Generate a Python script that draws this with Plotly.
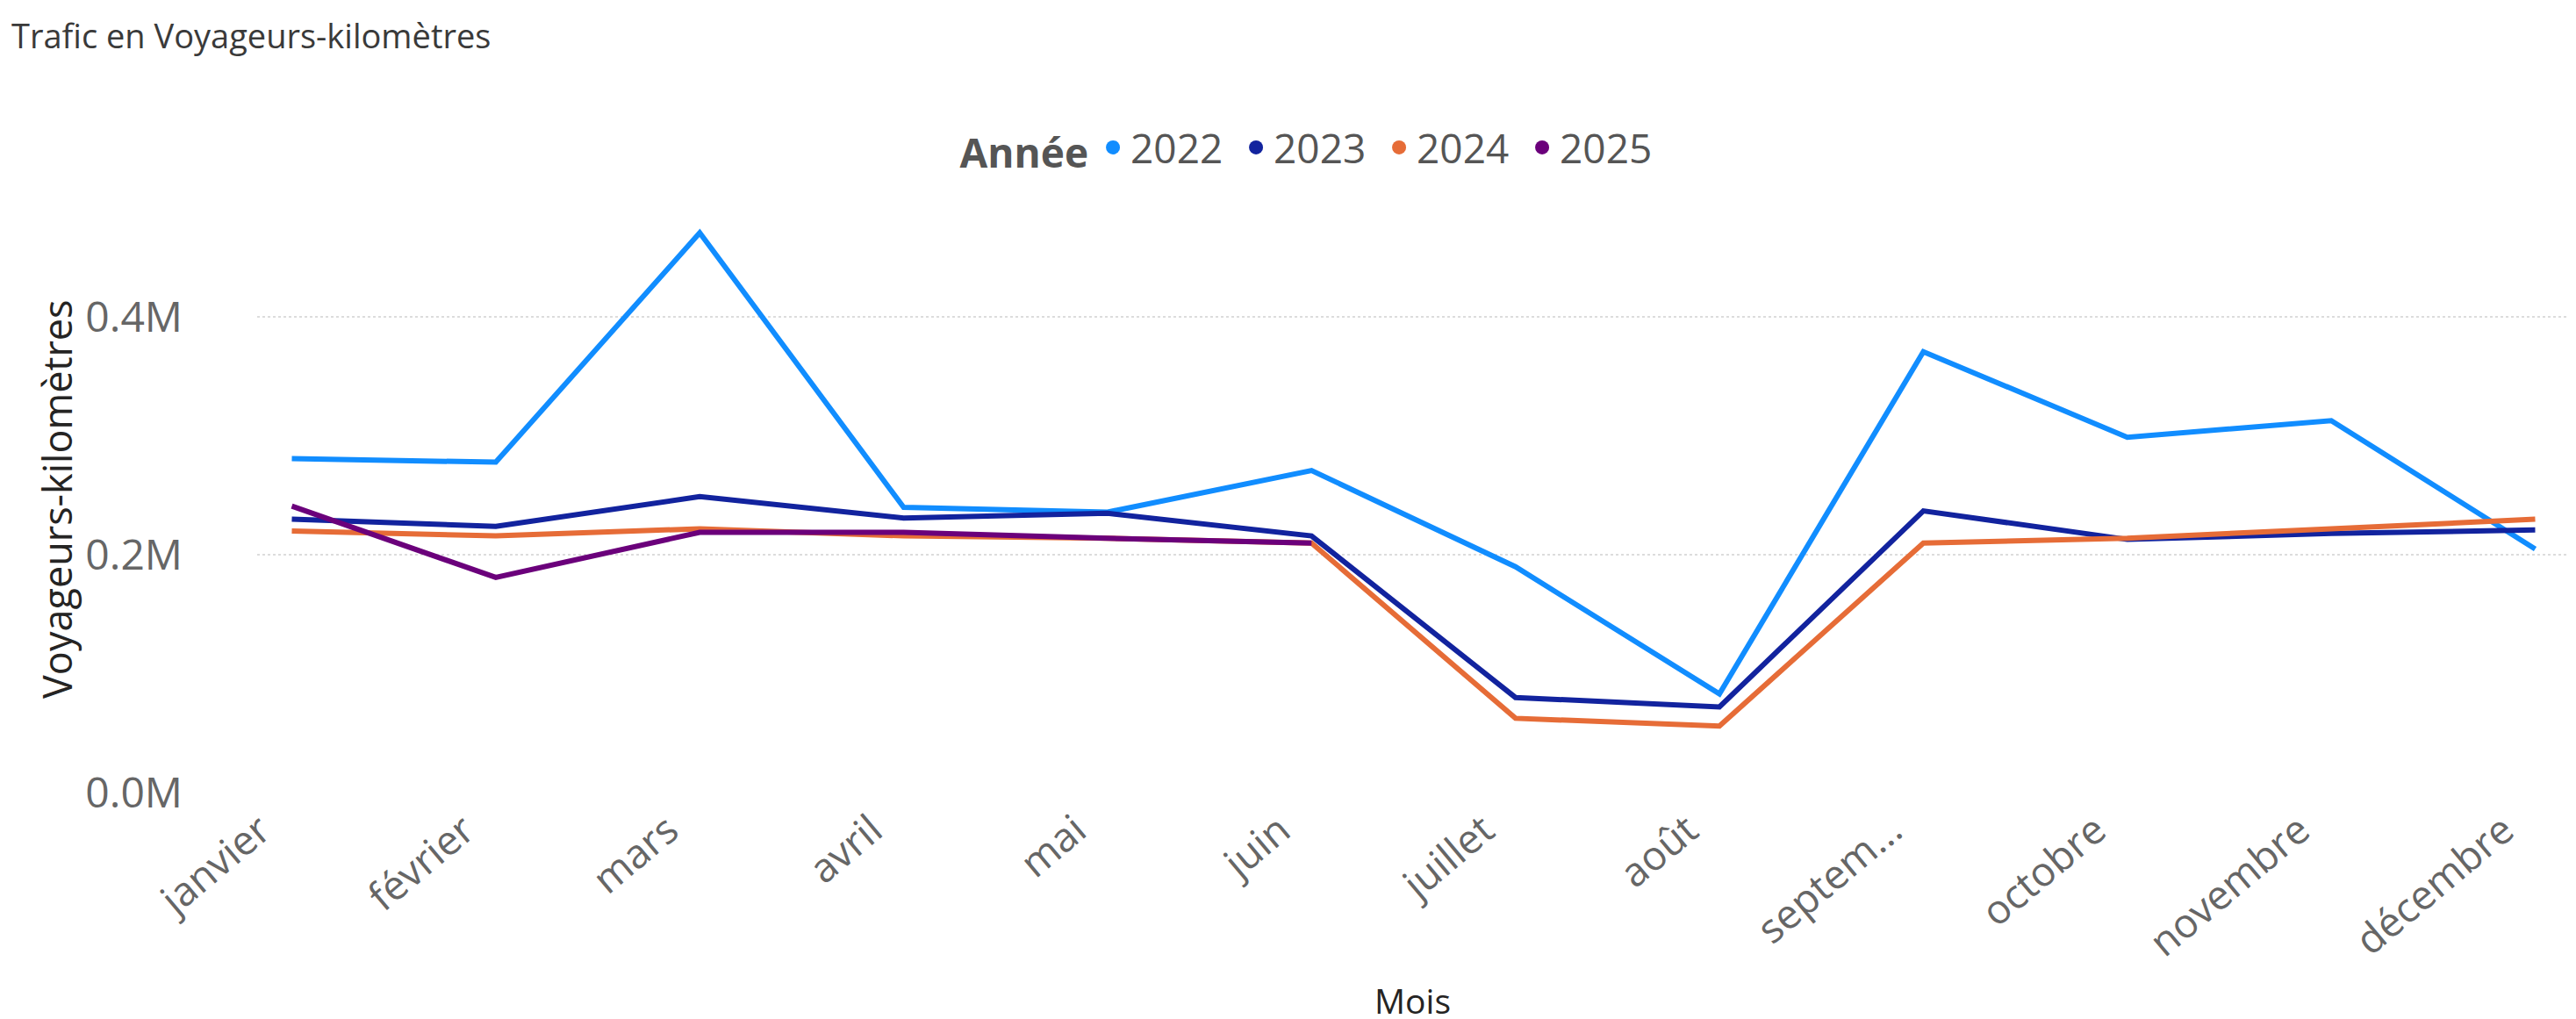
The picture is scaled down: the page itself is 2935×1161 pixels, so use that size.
import plotly.graph_objects as go

months = ["janvier", "février", "mars", "avril", "mai", "juin", "juillet",
          "août", "septembre", "octobre", "novembre", "décembre"]
month_labels = ["janvier", "février", "mars", "avril", "mai", "juin", "juillet",
                "août", "septem...", "octobre", "novembre", "décembre"]

v2022 = [281000, 278000, 471000, 240000, 236000, 271000, 190000, 83000, 371000, 299000, 313000, 205000]
v2023 = [230000, 224000, 249000, 231000, 235000, 216000, 80000, 72000, 237000, 213000, 218000, 221000]
v2024 = [220000, 216000, 222000, 216000, 214000, 210000, 62500, 56000, 210000, 214000, 222000, 230000]
v2025 = [241000, 181000, 219000, 219000, 214000, 210000]

years = ["2022", "2023", "2024", "2025"]
series = [v2022, v2023, v2024, v2025]
colors = ["#118DFF", "#12239E", "#E66C37", "#6B007B"]

y_ticks = [0, 200000, 400000]
y_tick_labels = ["0.0M", "0.2M", "0.4M"]

FONT = "Open Sans, Noto Sans, sans-serif"

fig = go.Figure()
for name, vals, col in zip(years, series, colors):
    fig.add_trace(go.Scatter(
        x=months[:len(vals)], y=vals, mode="lines", name=name,
        line=dict(color=col, width=6), showlegend=False,
    ))
for name, col in zip(years, colors):
    fig.add_trace(go.Scatter(
        x=[None], y=[None], mode="markers", name=name,
        marker=dict(color=col, size=22, symbol="circle"), showlegend=True,
    ))

W, H = 2935, 1161
L, R, T, B = 285, 15, 218, 266
plot_h = H - T - B
plot_w = W - L - R
y0_px = H - B

fig.update_layout(
    width=W, height=H,
    margin=dict(l=L, r=R, t=T, b=B),
    paper_bgcolor="white", plot_bgcolor="white",
    font=dict(family=FONT, color="#605E5C"),
    title=dict(text="Trafic en Voyageurs-kilomètres", xref="container", yref="container",
               x=5 / W, xanchor="left", y=1 - 34 / H, yanchor="middle",
               font=dict(size=38, color="#3A3A3A", family=FONT)),
    legend=dict(orientation="h", x=(1488 - L) / plot_w, xanchor="center",
                y=1 + (T - 160) / plot_h, yanchor="middle",
                title=dict(text="<b>Année</b>", font=dict(size=46, color="#555555")),
                font=dict(size=46, color="#555555"),
                entrywidth=118, entrywidthmode="pixels",
                itemwidth=30, tracegroupgap=0, traceorder="normal"),
    xaxis=dict(type="category", categoryorder="array", categoryarray=months,
               range=[-0.17, 11.17], tickmode="array", tickvals=months, ticktext=month_labels,
               tickangle=-40, tickfont=dict(size=46, color="#666666"),
               showgrid=False, zeroline=False, showline=False, ticks="",
               ticklabelstandoff=6, ticklabelshift=-36),
    yaxis=dict(range=[0, 500000], tickmode="array", tickvals=y_ticks, ticktext=y_tick_labels,
               tickfont=dict(size=48, color="#666666"),
               showgrid=True, gridcolor="#DCDCDC", gridwidth=2, griddash="dot",
               zeroline=False, showline=False, ticks="", ticklabelstandoff=84),
    annotations=[
        dict(text="Voyageurs-kilomètres", xref="paper", yref="paper",
             x=(56 - L) / plot_w, y=(y0_px - 560) / plot_h, xanchor="center", yanchor="middle",
             textangle=-90, showarrow=False,
             font=dict(size=45, color="#252423", family=FONT)),
        dict(text="Mois", xref="paper", yref="paper",
             x=(1601 - L) / plot_w, y=(y0_px - 1160) / plot_h, xanchor="center", yanchor="bottom",
             showarrow=False, font=dict(size=39, color="#252423", family=FONT)),
    ],
)

fig.write_html("out.html")
